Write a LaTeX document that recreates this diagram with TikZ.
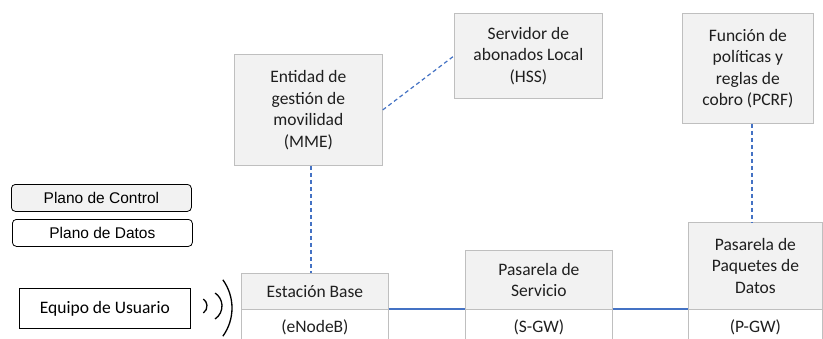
\documentclass[tikz,border=0pt]{standalone}
\usepackage{fontspec}
\setmainfont{Carlito}
\newfontfamily\arialf{Liberation Sans}
\definecolor{boxfill}{HTML}{F2F2F2}
\definecolor{boxline}{HTML}{BFBFBF}
\definecolor{lnblue}{HTML}{4472C4}
\definecolor{txt}{HTML}{1F1F1F}
\begin{document}
\begin{tikzpicture}[x=1pt,y=-1pt,
  ent/.style={draw=boxline, fill=boxfill, line width=0.8pt, align=center, text=txt,
    font=\fontsize{17.5}{21.5}\selectfont, inner sep=0pt, anchor=north west},
  low/.style={ent, fill=white},
  legend/.style={draw=black, line width=0.8pt, rounded corners=4pt, align=center, text=black,
    font=\arialf\fontsize{15.5}{18}\selectfont, inner sep=0pt, anchor=north west,
    minimum width=180pt, minimum height=27pt},
  ctl/.style={draw=lnblue, line width=1.2pt, dash pattern=on 4pt off 3pt},
  usr/.style={draw=lnblue, line width=1.1pt}]
\useasboundingbox (0,0) rectangle (823,338);
\clip (0,0) rectangle (823,338);
\fill[white] (0,0) rectangle (823,338);
% legend
\node[legend, fill=boxfill] (cp) at (11,184) {Plano de Control};
\node[legend, fill=white] (dp) at (12,219) {Plano de Datos};
% user equipment
\node[draw=black, line width=0.8pt, fill=white, anchor=north west, inner sep=0pt,
  minimum width=171pt, minimum height=40pt, text=black,
  font=\fontsize{17.5}{21.5}\selectfont] (ue) at (19,288) {Equipo de Usuario};
% radio waves
\draw[black, line width=1.3pt] (198.5,306) ++(-55:8.5pt) arc[start angle=-55, end angle=55, radius=8.5pt];
\draw[black, line width=1.3pt] (206.4,306) ++(-56:15.6pt) arc[start angle=-56, end angle=56, radius=15.6pt];
\draw[black, line width=1.3pt] (184,308) ++(-36:48pt) arc[start angle=-36, end angle=36, radius=48pt];
% entities
\node[ent, minimum width=148pt, minimum height=111pt] (mme) at (234,54)
  {Entidad de\\gestión de\\movilidad\\(MME)};
\node[ent, minimum width=148pt, minimum height=85pt] (hss) at (454,13)
  {Servidor de\\abonados Local\\(HSS)};
\node[ent, minimum width=131pt, minimum height=110pt] (pcrf) at (682,13)
  {Función de\\políticas y\\reglas de\\cobro (PCRF)};
\node[ent, minimum width=147pt, minimum height=36pt] (enbT) at (241,273) {Estación Base};
\node[low, minimum width=147pt, minimum height=36pt] (enbB) at (241,309) {(eNodeB)};
\node[ent, minimum width=147pt, minimum height=59pt] (sgwT) at (465,250) {Pasarela de\\Servicio};
\node[low, minimum width=147pt, minimum height=36pt] (sgwB) at (465,309) {(S-GW)};
\node[ent, minimum width=134pt, minimum height=87pt] (pgwT) at (688,222) {Pasarela de\\Paquetes de\\Datos};
\node[low, minimum width=134pt, minimum height=36pt] (pgwB) at (688,309) {(P-GW)};
% control plane links
\draw[ctl] (mme.east) -- (hss.west);
\draw[ctl] ([xshift=2.5pt]mme.south) -- ([xshift=2.5pt]mme.south |- enbT.north);
\draw[ctl] ([xshift=4pt]pcrf.south) -- ([xshift=4pt]pcrf.south |- pgwT.north);
% user plane links
\draw[usr] (enbB.north east) -- (sgwB.north west);
\draw[usr] (sgwB.north east) -- (pgwB.north west);
\end{tikzpicture}
\end{document}
